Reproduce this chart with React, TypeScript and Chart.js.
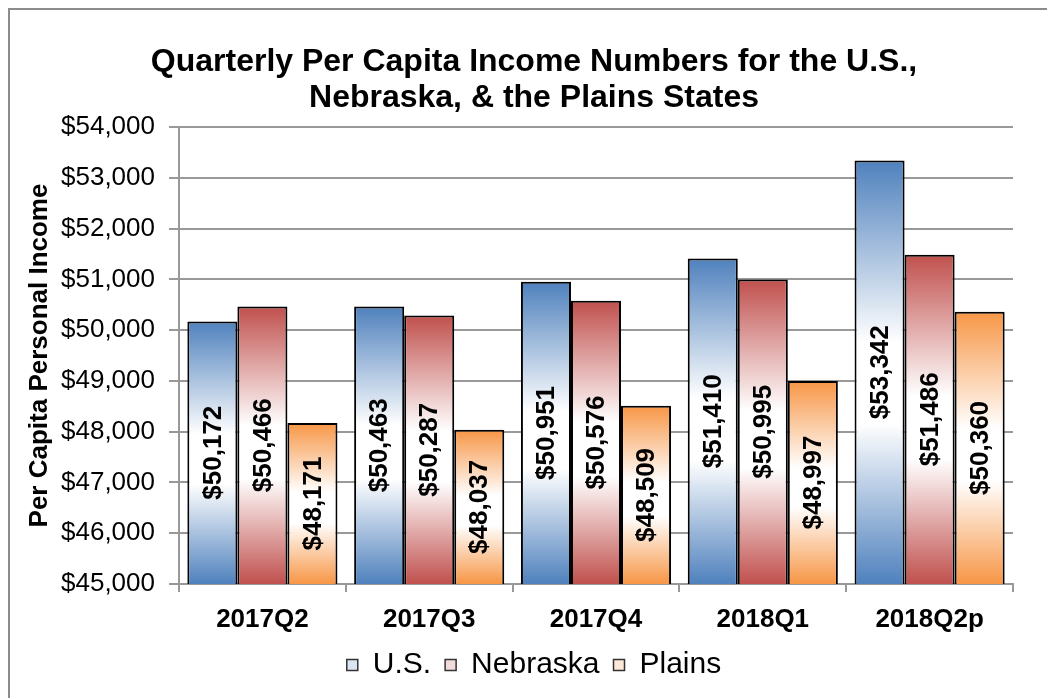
import React, { useEffect, useRef } from 'react';
import { Chart, registerables } from 'chart.js';

Chart.register(...registerables);

const categories = ['2017Q2', '2017Q3', '2017Q4', '2018Q1', '2018Q2p'];
const usValues = [50172, 50463, 50951, 51410, 53342];
const nebraskaValues = [50466, 50287, 50576, 50995, 51486];
const plainsValues = [48171, 48037, 48509, 48997, 50360];
const seriesNames = ['U.S.', 'Nebraska', 'Plains'];
const seriesColors = ['#4F81BD', '#C0504D', '#F79646'];
const legendTints = ['#dce6f2', '#f2dcdb', '#fde9d9'];
const titleLines = ['Quarterly Per Capita Income Numbers for the U.S.,', 'Nebraska, & the Plains States'];
const yAxisTitle = 'Per Capita Personal Income';
const yMin = 45000;
const yMax = 54000;
const yStep = 1000;

const FONT = '"Liberation Sans", Arial, Helvetica, sans-serif';

const fmt = (v: number) => '$' + Math.round(v).toLocaleString('en-US');

function gradientFill(base: string) {
  return (ctx: any) => {
    const chart = ctx.chart;
    const y = chart.scales && chart.scales.y;
    if (ctx.type !== 'data' || !y || !chart.chartArea) return base;
    const top = y.getPixelForValue(ctx.raw);
    const bottom = y.getPixelForValue(yMin);
    if (!isFinite(top) || !isFinite(bottom) || top === bottom) return base;
    const g = chart.ctx.createLinearGradient(0, top, 0, bottom);
    g.addColorStop(0, base);
    g.addColorStop(0.43, '#ffffff');
    g.addColorStop(0.62, '#ffffff');
    g.addColorStop(1, base);
    return g;
  };
}

const valueLabels = {
  id: 'valueLabels',
  afterDraw(chart: any) {
    const c = chart.ctx;
    const yScale = chart.scales.y;
    c.save();
    c.font = 'bold 26px ' + FONT;
    c.fillStyle = '#000000';
    c.textAlign = 'center';
    c.textBaseline = 'middle';
    chart.data.datasets.forEach((ds: any, i: number) => {
      const meta = chart.getDatasetMeta(i);
      meta.data.forEach((el: any, j: number) => {
        const v = ds.data[j];
        const x = el.x;
        const cy = (yScale.getPixelForValue(v) + yScale.getPixelForValue(yMin)) / 2;
        c.save();
        c.translate(x, cy);
        c.rotate(-Math.PI / 2);
        c.fillText(fmt(v), 0, 1);
        c.restore();
      });
    });
    c.restore();
  },
};

const frame = {
  id: 'frame',
  afterDraw(chart: any) {
    const c = chart.ctx;
    c.save();
    c.strokeStyle = '#8c8c8c';
    c.lineWidth = 2;
    c.beginPath();
    c.moveTo(1, chart.height + 5);
    c.lineTo(1, 1);
    c.lineTo(chart.width + 5, 1);
    c.stroke();
    c.restore();
  },
};

export default function App() {
  const ref = useRef<HTMLCanvasElement | null>(null);

  useEffect(() => {
    if (!ref.current) return;
    const values = [usValues, nebraskaValues, plainsValues];
    const chart = new Chart(ref.current, {
      type: 'bar',
      data: {
        labels: categories,
        datasets: seriesNames.map((name, i) => ({
          label: name,
          data: values[i],
          backgroundColor: gradientFill(seriesColors[i]),
          borderColor: '#000000',
          borderWidth: 2,
          categoryPercentage: 0.9,
          barPercentage: 1.0,
        })),
      },
      options: {
        animation: false,
        responsive: false,
        events: [],
        layout: { padding: { left: 47, right: 42, top: 0, bottom: 8 } },
        plugins: {
          tooltip: { enabled: false },
          title: {
            display: true,
            text: titleLines,
            color: '#000',
            font: { family: FONT, size: 32, weight: 'bold', lineHeight: 1.125 },
            padding: { top: 36, bottom: 11 },
          },
          legend: {
            position: 'bottom',
            labels: {
              color: '#000',
              font: { family: FONT, size: 30 },
              boxWidth: 11,
              boxHeight: 11,
              padding: 14,
              generateLabels: () =>
                seriesNames.map((name, i) => ({
                  text: name,
                  fillStyle: legendTints[i],
                  strokeStyle: '#333',
                  lineWidth: 1.5,
                  hidden: false,
                  datasetIndex: i,
                })),
            },
          },
        },
        scales: {
          x: {
            afterFit: (scale: any) => {
              scale.height = 52;
            },
            grid: { display: true, drawOnChartArea: false, drawTicks: true, tickLength: 8, offset: true, color: '#999', lineWidth: 2 },
            border: { display: true, color: '#999', width: 2 },
            ticks: { color: '#000', font: { family: FONT, size: 26, weight: 'bold' }, padding: 12 },
          },
          y: {
            min: yMin,
            max: yMax,
            afterFit: (scale: any) => {
              scale.width = 124;
            },
            grid: { color: '#999', lineWidth: 2, tickLength: 10 },
            border: { display: true, color: '#999', width: 2 },
            ticks: {
              stepSize: yStep,
              color: '#000',
              padding: 14,
              font: { family: FONT, size: 26 },
              callback: (v: any) => fmt(Number(v)),
            },
            title: {
              display: true,
              text: yAxisTitle,
              color: '#000',
              font: { family: FONT, size: 26, weight: 'bold' },
              padding: { top: -31, bottom: 0 },
            },
          },
        },
      },
      plugins: [valueLabels, frame],
    });
    return () => chart.destroy();
  }, []);

  return (
    <div style={{ width: 1047, height: 690 }}>
      <canvas ref={ref} width={1047} height={690} style={{ display: 'block', width: 1047, height: 690 }} />
    </div>
  );
}
